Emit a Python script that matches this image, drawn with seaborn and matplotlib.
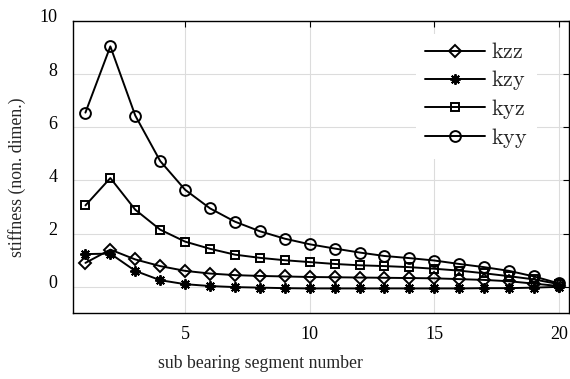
import numpy as np
import pandas as pd
import seaborn as sns
import matplotlib
matplotlib.use("Agg")
import matplotlib.pyplot as plt
import matplotlib.transforms as mtransforms
from matplotlib import font_manager

segments = list(range(1, 21))
kzz = [0.90, 1.40, 1.03, 0.78, 0.60, 0.50, 0.44, 0.41, 0.39, 0.37, 0.36, 0.35, 0.34, 0.33, 0.32, 0.29, 0.26, 0.21, 0.12, 0.03]
kzy = [1.23, 1.25, 0.60, 0.25, 0.10, 0.03, -0.01, -0.03, -0.05, -0.06, -0.06, -0.06, -0.06, -0.06, -0.06, -0.06, -0.05, -0.05, -0.03, 0.00]
kyz = [3.06, 4.09, 2.90, 2.15, 1.70, 1.43, 1.21, 1.09, 1.00, 0.93, 0.86, 0.81, 0.78, 0.74, 0.68, 0.61, 0.51, 0.40, 0.28, 0.10]
kyy = [6.55, 9.04, 6.44, 4.73, 3.65, 2.95, 2.45, 2.09, 1.81, 1.60, 1.44, 1.29, 1.16, 1.08, 0.99, 0.86, 0.74, 0.60, 0.39, 0.13]
series_names = ["kzz", "kzy", "kyz", "kyy"]
x_ticks = [5, 10, 15, 20]
y_ticks = [0, 2, 4, 6, 8, 10]

df = pd.DataFrame({"segment": segments, "kzz": kzz, "kzy": kzy, "kyz": kyz, "kyy": kyy})

sns.set_style("white")
plt.rcParams["font.family"] = ["Liberation Serif", "DejaVu Serif"]
plt.rcParams["mathtext.fontset"] = "cm"
serif_tick = font_manager.FontProperties(family="Liberation Serif", size=13)
serif_lab = font_manager.FontProperties(family="Liberation Serif", size=12.8)

fig = plt.figure(figsize=(5.70, 3.79), dpi=100)
ax = fig.add_axes([0.128, 0.173, 0.870, 0.772])

styles = {
    "kzz": dict(marker="D", markersize=6.5),
    "kzy": dict(marker=(8, 2, 0), markersize=7.5),
    "kyz": dict(marker="s", markersize=6.3),
    "kyy": dict(marker="o", markersize=7.8),
}
for name in series_names:
    sns.lineplot(data=df, x="segment", y=name, ax=ax, color="black", linewidth=1.4,
                 markerfacecolor="none", markeredgecolor="black", markeredgewidth=1.4,
                 label=r"$\mathrm{" + name + "}$", **styles[name])

ax.set_xlim(0.5, 20.4)
ax.set_ylim(-1, 10)
ax.set_xticks(x_ticks)
ax.set_yticks(y_ticks)
ax.grid(True, color="#dcdcdc", linewidth=0.8)
ax.set_axisbelow(True)
for s in ax.spines.values():
    s.set_visible(True)
    s.set_color("black")
    s.set_linewidth(1.0)
ax.tick_params(direction="in", length=4, width=0.8, top=True, right=True,
               labelsize=13, colors="black")
ax.tick_params(axis="y", pad=11)
ax.tick_params(axis="x", pad=9)
offset = mtransforms.ScaledTranslation(0, 5 / 100, fig.dpi_scale_trans)
for lbl in ax.get_yticklabels():
    lbl.set_transform(lbl.get_transform() + offset)
    lbl.set_fontproperties(serif_tick)
for lbl in ax.get_xticklabels():
    lbl.set_fontproperties(serif_tick)

ax.set_xlabel("sub bearing segment number", fontproperties=serif_lab)
ax.set_ylabel("stiffness (non. dimen.)", fontproperties=serif_lab)
ax.xaxis.set_label_coords(0.378, -0.143)
ax.yaxis.set_label_coords(-0.095, 0.466)

leg = ax.legend(loc="upper right", bbox_to_anchor=(0.54, 0.0, 0.418, 0.993),
                frameon=True, fontsize=16, handlelength=2.7, handletextpad=0.3,
                labelspacing=0.22, borderpad=0.4, fancybox=False)
leg.get_frame().set_edgecolor("none")
leg.get_frame().set_facecolor("white")
leg.get_frame().set_alpha(1.0)

fig.savefig("out.png", dpi=100)
